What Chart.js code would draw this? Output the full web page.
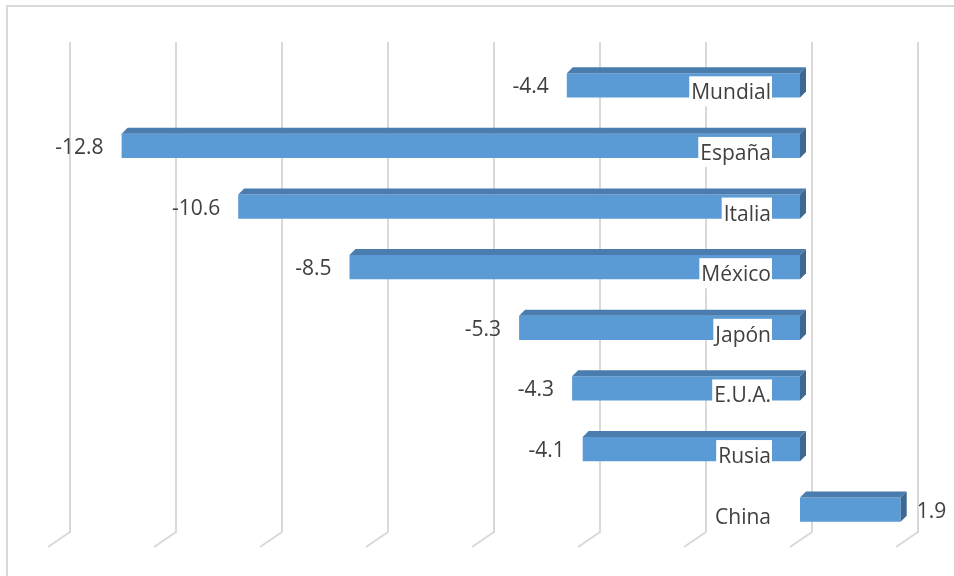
<!DOCTYPE html>
<html>
<head>
<meta charset="utf-8">
<script src="https://cdn.jsdelivr.net/npm/chart.js@4/dist/chart.umd.min.js"></script>
<style>
  html, body { margin: 0; padding: 0; background: #ffffff; }
  #wrap { width: 954px; height: 576px; position: relative; }
</style>
</head>
<body>
<div id="wrap"><canvas id="c" width="954" height="576"></canvas></div>
<script>
const categories = ["Mundial", "España", "Italia", "México", "Japón", "E.U.A.", "Rusia", "China"];
const values = [-4.4, -12.8, -10.6, -8.5, -5.3, -4.3, -4.1, 1.9];
const gridValues = [-14, -12, -10, -8, -6, -4, -2, 0, 2];

const FONT = '21px "Open Sans", "Liberation Sans", sans-serif';
const TEXT = '#404040';
const DEPTH = 6;        // bar 3D depth
const BACK_DX = 12;     // back wall offset of gridlines
const FLOOR_DX = -22, FLOOR_DY = 15;

const framePlugin = {
  id: 'frame',
  beforeDraw(chart) {
    const ctx = chart.ctx;
    ctx.save();
    ctx.fillStyle = '#ffffff';
    ctx.fillRect(0, 0, chart.width, chart.height);
    ctx.strokeStyle = '#d9d9d9';
    ctx.lineWidth = 2;
    ctx.beginPath();
    ctx.moveTo(7, chart.height + 5);
    ctx.lineTo(7, 6);
    ctx.lineTo(chart.width + 5, 6);
    ctx.stroke();
    ctx.restore();
  },
  beforeDatasetsDraw(chart) {
    const ctx = chart.ctx;
    const xs = chart.scales.x;
    ctx.save();
    ctx.strokeStyle = '#d9d9d9';
    ctx.lineWidth = 2;
    const top = 42, bottom = 532;
    gridValues.forEach(v => {
      const xb = xs.getPixelForValue(v) + BACK_DX;
      ctx.beginPath();
      ctx.moveTo(xb, top);
      ctx.lineTo(xb, bottom);
      ctx.lineTo(xb + FLOOR_DX, bottom + FLOOR_DY);
      ctx.stroke();
    });
    ctx.restore();
  },
  afterDatasetsDraw(chart) {
    const ctx = chart.ctx;
    const meta = chart.getDatasetMeta(0);
    const xs = chart.scales.x;
    const zero = xs.getPixelForValue(0);
    ctx.save();
    // 3D faces
    meta.data.forEach(bar => {
      const left = Math.min(bar.x, bar.base), right = Math.max(bar.x, bar.base);
      const t = bar.y - bar.height / 2, b = bar.y + bar.height / 2;
      ctx.fillStyle = '#4a7cae';
      ctx.beginPath();
      ctx.moveTo(left, t);
      ctx.lineTo(right, t);
      ctx.lineTo(right + DEPTH, t - DEPTH);
      ctx.lineTo(left + DEPTH, t - DEPTH);
      ctx.closePath();
      ctx.fill();
      ctx.fillStyle = '#3d6891';
      ctx.beginPath();
      ctx.moveTo(right, t);
      ctx.lineTo(right + DEPTH, t - DEPTH);
      ctx.lineTo(right + DEPTH, b - DEPTH);
      ctx.lineTo(right, b);
      ctx.closePath();
      ctx.fill();
    });
    // category labels
    ctx.font = FONT;
    ctx.textBaseline = 'middle';
    meta.data.forEach((bar, i) => {
      const txt = categories[i];
      const w = ctx.measureText(txt).width;
      const xr = zero - 29;
      const yc = bar.y + 8;
      ctx.fillStyle = '#ffffff';
      ctx.fillRect(xr - w - 2, yc - 17, w + 3, 30);
      ctx.fillStyle = TEXT;
      ctx.textAlign = 'right';
      ctx.fillText(txt, xr, yc);
    });
    // value labels
    meta.data.forEach((bar, i) => {
      const v = values[i];
      const txt = v.toFixed(1);
      ctx.fillStyle = TEXT;
      if (v < 0) {
        ctx.textAlign = 'right';
        ctx.fillText(txt, bar.x - 18, bar.y + 2);
      } else {
        ctx.textAlign = 'left';
        ctx.fillText(txt, bar.x + 16, bar.y + 2);
      }
    });
    ctx.restore();
  }
};

new Chart(document.getElementById('c'), {
  type: 'bar',
  data: {
    labels: categories,
    datasets: [{
      data: values,
      backgroundColor: '#5b9bd5',
      borderWidth: 0,
      barPercentage: 0.4,
      categoryPercentage: 1.0
    }]
  },
  options: {
    indexAxis: 'y',
    responsive: false,
    animation: false,
    layout: { padding: { left: 58, right: 48, top: 55, bottom: 36 } },
    plugins: { legend: { display: false }, tooltip: { enabled: false } },
    scales: {
      x: { display: false, min: -14, max: 2 },
      y: { display: false }
    }
  },
  plugins: [framePlugin]
});
</script>
</body>
</html>
